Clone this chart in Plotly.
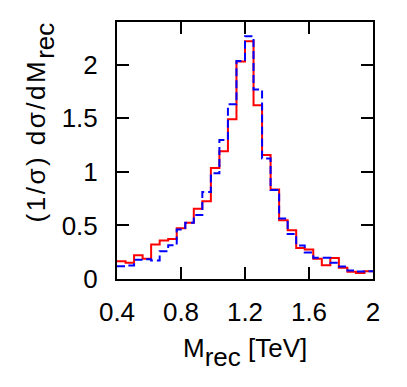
import numpy as np
import plotly.graph_objects as go

# Histogram binning: 30 bins between 0.4 and 2.0 TeV
x_min, x_max, n_bins = 0.4, 2.0, 30
bin_edges = np.linspace(x_min, x_max, n_bins + 1)

red_values = [0.166, 0.151, 0.222, 0.189, 0.322, 0.360, 0.374, 0.474, 0.525, 0.655,
              0.727, 1.036, 1.194, 1.492, 2.030, 2.220, 1.622, 1.157, 0.836, 0.549,
              0.456, 0.290, 0.276, 0.190, 0.128, 0.196, 0.105, 0.067, 0.056, 0.073]
blue_values = [0.120, 0.126, 0.180, 0.184, 0.172, 0.260, 0.315, 0.463, 0.525, 0.598,
               0.813, 0.988, 1.297, 1.631, 2.035, 2.268, 1.770, 1.126, 0.830, 0.566,
               0.421, 0.313, 0.247, 0.198, 0.198, 0.151, 0.116, 0.079, 0.069, 0.073]

x_ticks = [0.4, 0.8, 1.2, 1.6, 2.0]
x_tick_labels = ["0.4", "0.8", "1.2", "1.6", "2"]
y_ticks = [0, 0.5, 1, 1.5, 2]
y_tick_labels = ["0", "0.5", "1", "1.5", "2"]

FONT = "Liberation Sans, Arial, Helvetica, sans-serif"
FS = 26
SUB = '<sub><sub><span style="font-size:%dpx">rec</span></sub></sub>' % FS

def step(vals):
    return list(bin_edges), list(vals) + [vals[-1]]

fig = go.Figure()
xr, yr = step(red_values)
fig.add_trace(go.Scatter(x=xr, y=yr, mode="lines", line_shape="hv",
                         line=dict(color="#ff0000", width=2), showlegend=False))
xb, yb = step(blue_values)
fig.add_trace(go.Scatter(x=xb, y=yb, mode="lines", line_shape="hv",
                         line=dict(color="#0000ff", width=2, dash="8px,4px"), showlegend=False))

axis_common = dict(
    showgrid=False, zeroline=False, showline=True, linecolor="black", linewidth=2,
    mirror="allticks", ticks="inside", ticklen=12, tickwidth=2, tickcolor="black",
    tickfont=dict(family=FONT, size=FS, color="black"), automargin=False,
)
fig.update_xaxes(range=[x_min, x_max], tickvals=x_ticks, ticktext=x_tick_labels,
                 ticklabelstandoff=9, **axis_common)
fig.update_yaxes(range=[0, 2.4], tickvals=y_ticks, ticktext=y_tick_labels,
                 ticklabelstandoff=12, **axis_common)

fig.add_annotation(text="M" + SUB + " [TeV]", xref="paper", yref="paper",
                   x=0.5, y=-0.285, xanchor="center", yanchor="middle", showarrow=False,
                   font=dict(family=FONT, size=FS, color="black"))
fig.add_annotation(text='<span style="letter-spacing:2.5px">(1/σ) dσ/dM</span>' + SUB,
                   xref="paper", yref="paper",
                   x=-0.30, y=0.61, xanchor="center", yanchor="middle", showarrow=False,
                   textangle=-90, font=dict(family=FONT, size=FS, color="black"))

# The page body has an 8px default margin, so the figure is sized to fit inside it.
fig.update_layout(
    width=399, height=379,
    margin=dict(l=109, r=34, t=14, b=107.5, autoexpand=False),
    paper_bgcolor="white", plot_bgcolor="white",
    font=dict(family=FONT, size=FS, color="black"),
)

fig.write_html("out.html")
